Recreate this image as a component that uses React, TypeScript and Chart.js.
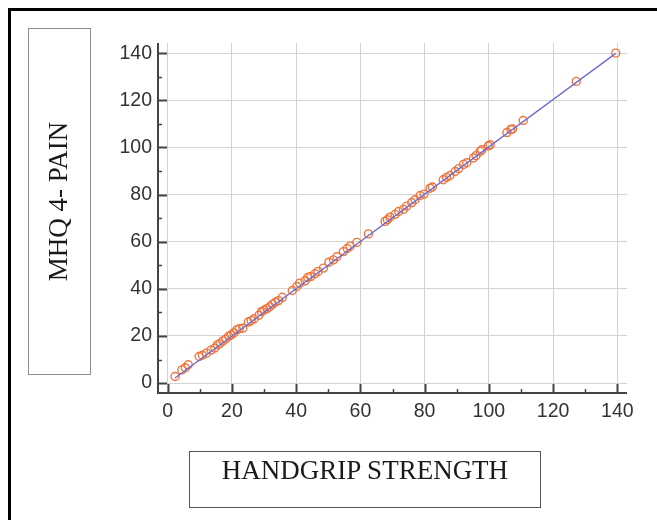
import React, { useEffect, useRef } from "react";
import { Chart, registerables } from "chart.js";

Chart.register(...registerables);

// Handgrip strength (x) and MHQ 4 - pain (y) values
const handgripStrength = [
  2.3, 4.4, 5.5, 6.4, 9.8, 10.8, 12.1, 13.5, 14.7, 15.5, 16.3, 17.2, 18.1, 19, 19.8, 20.6,
  21.5, 22.3, 23.4, 25.1, 26, 26.9, 28.4, 29.2, 30, 30.9, 31.8, 32.6, 33.5, 34.5, 35.7,
  38.8, 40.2, 41.1, 42.8, 43.6, 44.5, 45.9, 46.8, 48.5, 50.2, 51.6, 52.7, 54.7, 55.9, 56.8,
  58.9, 62.5, 67.7, 68.4, 69.2, 70.8, 71.9, 73.4, 74.4, 76, 77, 78.6, 79.8, 81.7, 82.4,
  85.8, 86.8, 87.9, 89.5, 90.6, 92.1, 93.1, 95.2, 96, 97.3, 97.8, 99.8, 100.4, 105.6,
  106.8, 107.4, 110.7, 127.2, 139.5,
];
const mhq4Pain = [
  2.8, 5.6, 6.5, 7.8, 11.3, 11.8, 12.7, 14, 14.9, 16.2, 16.8, 17.9, 18.7, 19.9, 20.4, 21.3,
  22.6, 23.1, 23.3, 25.9, 26.5, 27.3, 28.8, 30.3, 30.9, 31.6, 32.4, 33.4, 34.3, 35, 36.4,
  39.3, 41, 42.4, 43.4, 44.8, 45.2, 46.4, 47.4, 48.8, 51.3, 52.3, 53.6, 55.8, 57.1, 58.1,
  59.7, 63.3, 68.6, 69.3, 70.4, 71.6, 72.8, 73.7, 75.1, 76.6, 77.8, 79.6, 80.2, 82.7, 83.2,
  86.3, 87.3, 88.1, 89.8, 91, 92.8, 93.5, 95.5, 96.5, 98.3, 99, 100.6, 101.1, 106.3,
  107.6, 107.8, 111.4, 128, 140,
];

// Fitted line end points
const fitLineX = [2.3, 139.5];
const fitLineY = [2.2, 139.9];

// Axis ticks
const majorTicks = [0, 20, 40, 60, 80, 100, 120, 140];
const minorTicks = [10, 30, 50, 70, 90, 110, 130];

const xAxisTitle = "HANDGRIP STRENGTH";
const yAxisTitle = "MHQ 4- PAIN";

const AXIS_COLOR = "#444";

const inwardAxesPlugin = {
  id: "inwardAxes",
  afterDraw(chart: any) {
    const { ctx, chartArea, scales } = chart;
    const xs = scales.x;
    const ys = scales.y;
    const L = chartArea.left;
    const B = chartArea.bottom;
    ctx.save();
    ctx.strokeStyle = AXIS_COLOR;
    ctx.lineWidth = 2;
    ctx.beginPath();
    ctx.moveTo(L, chartArea.top);
    ctx.lineTo(L, B);
    ctx.lineTo(chartArea.right, B);
    ctx.stroke();

    const tick = (len: number, width: number, vals: number[]) => {
      ctx.lineWidth = width;
      ctx.beginPath();
      vals.forEach((v) => {
        const px = Math.round(xs.getPixelForValue(v)) + 0.5;
        ctx.moveTo(px, B);
        ctx.lineTo(px, B - len);
        const py = Math.round(ys.getPixelForValue(v)) + 0.5;
        ctx.moveTo(L, py);
        ctx.lineTo(L + len, py);
      });
      ctx.stroke();
    };
    tick(9, 2, majorTicks);
    tick(4, 1.5, minorTicks);
    ctx.restore();
  },
};

const tickFont = { family: "'Liberation Sans', Arial, sans-serif", size: 19.5 };

export default function App() {
  const canvasRef = useRef<HTMLCanvasElement | null>(null);

  useEffect(() => {
    if (!canvasRef.current) return;
    const points = handgripStrength.map((x, i) => ({ x, y: mhq4Pain[i] }));
    const fit = fitLineX.map((x, i) => ({ x, y: fitLineY[i] }));
    const chart = new Chart(canvasRef.current, {
      type: "scatter",
      data: {
        datasets: [
          {
            type: "line",
            data: fit,
            borderColor: "#6a6ad2",
            borderWidth: 1.3,
            pointRadius: 0,
            fill: false,
            order: 1,
          } as any,
          {
            data: points,
            pointRadius: 4,
            pointBorderWidth: 1.4,
            borderColor: "#f0743a",
            backgroundColor: "rgba(255,255,255,0)",
            order: 2,
          },
        ],
      },
      options: {
        responsive: false,
        animation: false,
        devicePixelRatio: 1,
        layout: { padding: { left: 100, top: 43, right: 30, bottom: 0 } },
        plugins: { legend: { display: false }, tooltip: { enabled: false } },
        scales: {
          x: {
            type: "linear",
            min: -3,
            max: 143,
            afterBuildTicks: (s: any) => {
              s.ticks = majorTicks.map((v) => ({ value: v }));
            },
            afterFit: (s: any) => {
              s.height = 127;
            },
            grid: { color: "#d3d3d3", lineWidth: 1, drawTicks: false },
            border: { display: false },
            ticks: { padding: 7, color: "#333", font: tickFont, maxRotation: 0, autoSkip: false },
          },
          y: {
            type: "linear",
            min: -4.2,
            max: 144.3,
            afterBuildTicks: (s: any) => {
              s.ticks = majorTicks.map((v) => ({ value: v }));
            },
            afterFit: (s: any) => {
              s.width = 58;
            },
            grid: { color: "#d3d3d3", lineWidth: 1, drawTicks: false },
            border: { display: false },
            ticks: { padding: 6, color: "#333", font: tickFont, autoSkip: false },
          },
        },
      } as any,
      plugins: [inwardAxesPlugin],
    });
    return () => chart.destroy();
  }, []);

  const serif = "'Liberation Serif', 'Times New Roman', serif";

  return (
    <div style={{ position: "fixed", inset: 0, overflow: "hidden", background: "#fff" }}>
      <div
        style={{
          position: "absolute",
          left: 8,
          top: 8,
          width: 720,
          height: 620,
          border: "3px solid #000",
          boxSizing: "border-box",
        }}
      />
      <canvas
        ref={canvasRef}
        width={657}
        height={520}
        style={{ position: "absolute", left: 0, top: 0, width: 657, height: 520 }}
      />
      <div
        style={{
          position: "absolute",
          left: 28,
          top: 28,
          width: 63,
          height: 347,
          border: "1px solid #8e8e8e",
          boxSizing: "border-box",
          display: "flex",
          alignItems: "center",
          justifyContent: "center",
        }}
      >
        <span
          style={{
            whiteSpace: "nowrap",
            fontFamily: serif,
            fontSize: 27,
            color: "#1a1a1a",
            transform: "rotate(-90deg)",
            lineHeight: 1,
            marginLeft: -2,
          }}
        >
          {yAxisTitle}
        </span>
      </div>
      <div
        style={{
          position: "absolute",
          left: 189,
          top: 451,
          width: 352,
          height: 57,
          border: "1.5px solid #555",
          boxSizing: "border-box",
          display: "flex",
          alignItems: "flex-start",
          justifyContent: "center",
          paddingTop: 5,
        }}
      >
        <span
          style={{
            whiteSpace: "nowrap",
            fontFamily: serif,
            fontSize: 27,
            color: "#1a1a1a",
            lineHeight: 1,
          }}
        >
          {xAxisTitle}
        </span>
      </div>
    </div>
  );
}
